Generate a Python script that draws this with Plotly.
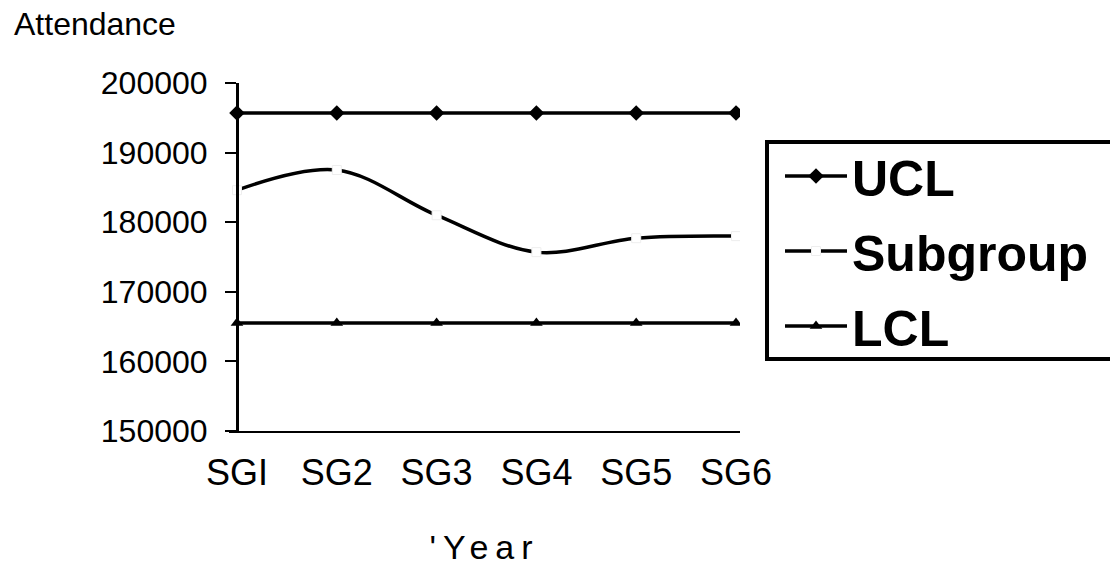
import plotly.graph_objects as go

categories = ["SGI", "SG2", "SG3", "SG4", "SG5", "SG6"]
ucl = [195700, 195700, 195700, 195700, 195700, 195700]
subgroup = [184600, 187500, 181000, 175700, 177700, 178000]
lcl = [165500, 165500, 165500, 165500, 165500, 165500]
y_ticks = [150000, 160000, 170000, 180000, 190000, 200000]

FONT = "Liberation Sans, Arial, sans-serif"

fig = go.Figure()
fig.add_trace(go.Scatter(
    x=categories, y=ucl, name="UCL", mode="lines+markers", legendgroup="a",
    line=dict(color="black", width=3.5),
    marker=dict(symbol="diamond", size=12, color="black"),
))
fig.add_trace(go.Scatter(
    x=categories, y=subgroup, name="Subgroup", mode="lines+markers", legendgroup="b",
    line=dict(color="black", width=3.5, shape="spline", smoothing=1.0),
    marker=dict(symbol="square", size=9, color="white", line=dict(color="#eeeeee", width=1)),
))
fig.add_trace(go.Scatter(
    x=categories, y=lcl, name="LCL", mode="lines+markers", legendgroup="c",
    line=dict(color="black", width=3.5),
    marker=dict(symbol="triangle-up", size=11, color="black"),
))

L, R, T, B = 229, 740, 83, 431
PW, PH = R - L, B - T


def px_x(v):
    return (v - L) / PW


def px_y(v):
    return (B - v) / PH


fig.update_layout(
    template="none",
    width=1110, height=566,
    margin=dict(l=L, r=1110 - R, t=T, b=566 - B, autoexpand=False),
    paper_bgcolor="white", plot_bgcolor="white",
    font=dict(family=FONT, color="black"),
    showlegend=True,
    hovermode=False,
    legend=dict(
        x=px_x(780), y=px_y(137), xanchor="left", yanchor="top",
        borderwidth=0, bgcolor="rgba(0,0,0,0)",
        font=dict(family=FONT, size=50, color="black", weight="bold"),
        itemwidth=62, tracegroupgap=7,
    ),
    xaxis=dict(
        type="category", categoryorder="array", categoryarray=categories,
        range=[-0.08, 5.04], automargin=False,
        showline=True, linecolor="black", linewidth=2,
        showgrid=False, zeroline=False, ticks="",
        tickfont=dict(family=FONT, size=36, color="black"),
        ticklabelstandoff=9,
        title=dict(text='<span style="letter-spacing:7px">\'Year</span>',
                   font=dict(family=FONT, size=34, color="black"), standoff=43),
    ),
    yaxis=dict(
        range=[150000, 200000], tickvals=y_ticks,
        ticktext=[str(v) for v in y_ticks],
        anchor="free", position=8 / PW, automargin=False,
        showline=True, linecolor="black", linewidth=2.5,
        showgrid=False, zeroline=False,
        ticks="outside", ticklen=11, tickwidth=2, tickcolor="black",
        tickfont=dict(family=FONT, size=32, color="black"),
        ticklabelstandoff=11,
    ),
    shapes=[dict(
        type="rect", xref="paper", yref="paper",
        x0=px_x(767), x1=px_x(1130), y0=px_y(142), y1=px_y(359),
        line=dict(color="black", width=4), fillcolor="rgba(0,0,0,0)", layer="below",
    )],
    annotations=[dict(
        text="Attendance", xref="paper", yref="paper",
        x=px_x(12), y=px_y(23.5), xanchor="left", yanchor="middle",
        showarrow=False, font=dict(family=FONT, size=32, color="black"),
    )],
)

fig.write_html(
    "out.html",
    config={"displayModeBar": False, "staticPlot": True},
    post_script="document.body.style.margin='0';document.body.style.overflow='hidden';",
)
